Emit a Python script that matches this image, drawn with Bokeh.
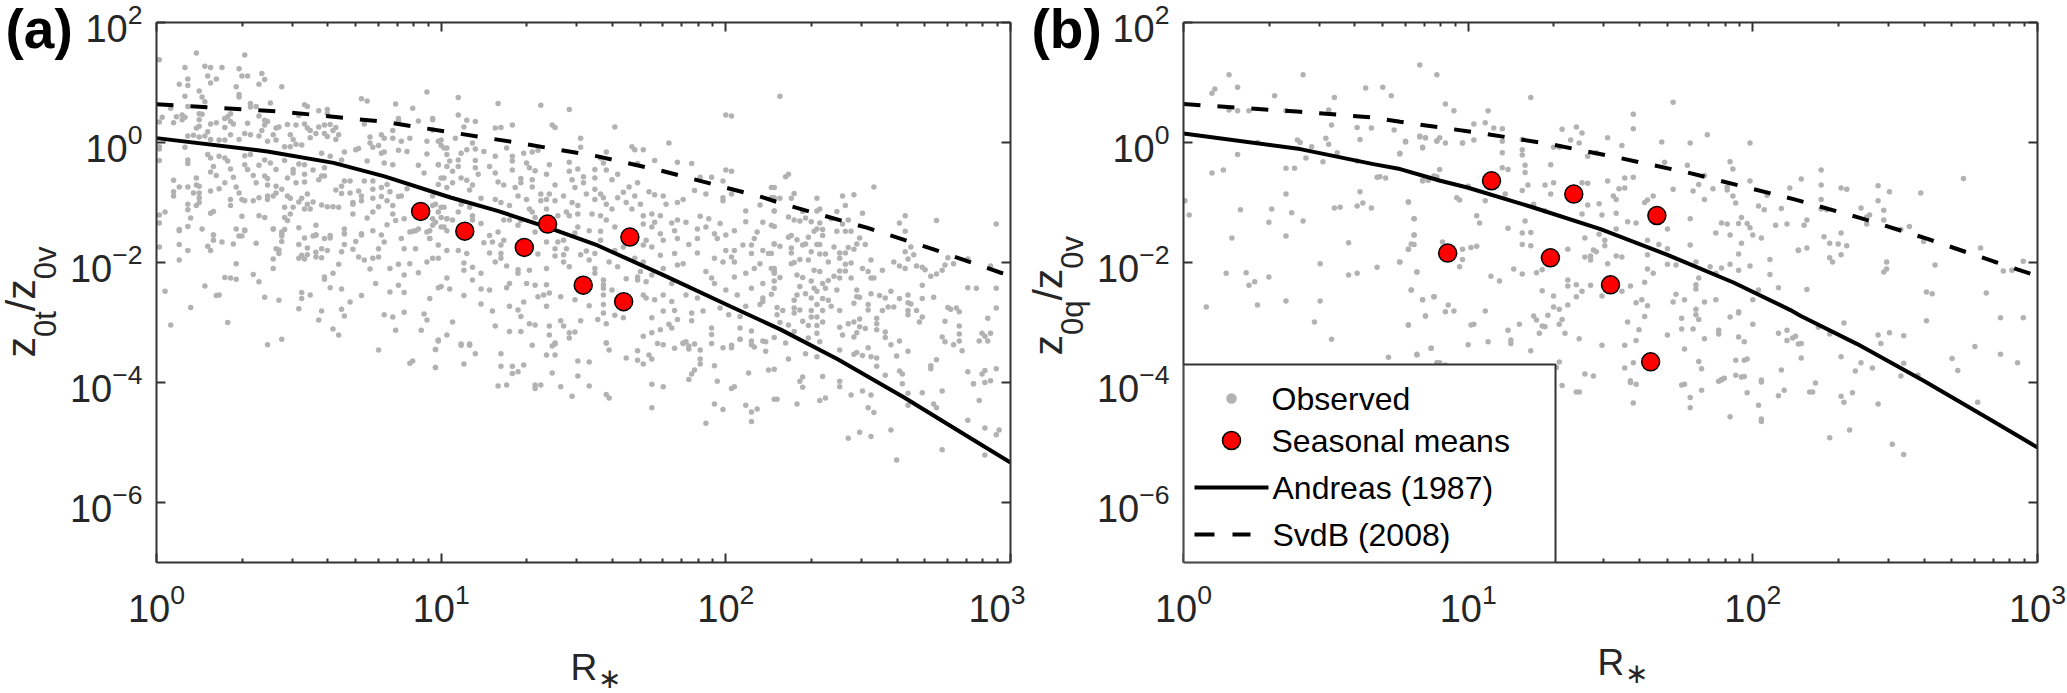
import math
from bokeh.plotting import figure
from bokeh.layouts import row
from bokeh.models import LogAxis, FixedTicker, Label, Range1d, BoxAnnotation
from bokeh.embed import file_html
from bokeh.resources import INLINE

# all series are stored as log10 values
mean_a_x = [.928,1.083,1.292,1.374,1.499,1.641,1.663]
mean_a_y = [-1.149,-1.478,-1.749,-1.36,-2.378,-2.653,-1.577]
mean_b_x = [.928,1.082,1.289,1.371,1.5,1.641,1.663]
mean_b_y = [-1.843,-.638,-1.922,-.86,-2.372,-3.655,-1.217]
and_a_x = [0,.39,.622,.798,1.033,1.198,1.374,1.55,1.781,2.017,2.193,2.393,2.625,2.86,3]
and_a_y = [.073,-.149,-.34,-.561,-.917,-1.139,-1.413,-1.716,-2.211,-2.733,-3.119,-3.614,-4.246,-4.93,-5.335]
svd_a_x = [0,.446,.798,1.033,1.254,1.55,1.781,2.133,2.203,2.498,2.73,2.966,3]
svd_a_y = [.639,.511,.346,.17,.007,-.231,-.479,-.918,-1.028,-1.424,-1.782,-2.171,-2.22]
and_b_x = [0,.41,.667,.761,.902,.997,1.229,1.465,1.7,1.932,2.132,2.167,2.367,2.6,2.835,3]
and_b_y = [.15,-.11,-.36,-.443,-.638,-.75,-1.083,-1.443,-1.872,-2.333,-2.793,-2.888,-3.36,-3.972,-4.62,-5.083]
svd_b_x = [0,.41,.667,.761,1.043,1.289,1.535,1.77,2.143,2.379,2.614,2.846,3]
svd_b_y = [.64,.511,.417,.345,.157,-.027,-.26,-.5,-.943,-1.26,-1.607,-1.983,-2.225]

obs_a = [
(.01,1.38),(.14,1.49),(.31,1.46),(.10,1.25),(.17,1.27),(.19,1.25),(.23,1.25),(.29,1.23),(.18,1.11),(.11,1.06),(.08,.97),(.11,.95),(.21,1.06),(.19,.99),(.30,1.11),(.32,1.11),(.37,1.15),(.38,1.05),(.36,.97),(.28,.93),(.44,.93),(.15,.86),(.29,.80),(.29,.76),(.10,.77),(.16,.76),(.17,.68),(.95,.84),(.72,.73),(.74,.69),(.84,.64),(.90,.57),(.33,.65),(.35,.60),(.40,.66),(.52,.63),(.53,.60),(.57,.53),(.60,.55),(.60,.48),(.05,.57),(.11,.60),(.33,.59),(.50,.45),(.85,.40),(.85,.36),(.97,.40),(.92,.36),(.73,.31),(.15,.48),(.16,.47),(.02,.42),(.07,.43),(.09,.46),(.10,.42),(.26,.48),(.25,.43),(.24,.40),(.36,.44),(.38,.37),(.39,.35),(.01,.34),(.06,.33),(.09,.38),(.15,.38),(.21,.33),(.19,.31),(.26,.35),(.27,.31),(.32,.32),(.38,.29),(.43,.26),(.46,.30),(.49,.29),(.52,.31),(.53,.24),(.57,.26),(.59,.29),(.61,.30),(.63,.25),(.62,.20),(.83,.20),(.97,.21),(.15,.27),(.14,.24),(.18,.18),(.24,.25),(.37,.20),(.42,.24),(.54,.20),(.56,.15),(.59,.15),(.60,.10),(.64,.13),(.75,.09),(.79,.13),(.80,.07),(.83,.07),(.86,.02),(.89,.07),(.63,.05),(.11,.11),(.13,.12),(.15,.09),(.17,.11),(.19,.05),(.22,.04),(.24,.04),(.26,.13),(.29,.05),(.31,.15),(.33,.13),(.36,.11),(.41,.13),(.42,.04),(.39,.02),(.47,.13),(.48,.05),(.49,-.03),(.51,-.04),(.54,.08),(.75,-.01),(.76,-.08),(.78,-.05),(.95,.02),(1.0,-.05),(1.02,-.09),(.85,-.13),(.88,-.15),(.79,-.18),(.80,-.16),(.95,-.19),(.10,-.08),(.01,-.07),(.01,-.11),(.18,-.20),(.19,-.26),(.22,-.23),(.24,-.26),(.25,-.31),(.31,-.22),(.33,-.20),(.38,-.29),(.40,-.34),(.45,-.07),(.47,-.07),(.58,-.18),(.61,-.23),(.65,-.29),(.66,-.16),(.70,-.12),(.71,-.10),(.74,-.31),(.80,-.34),(.83,-.37),(.92,-.38),(.99,-.37),(.01,-.30),(.11,-.29),(.11,-.35),(.20,-.40),(.31,-.37),(.32,-.45),(.26,-.44),(.36,-.38),(.45,-.30),(.48,-.45),(.50,-.36),(.52,-.37),(.55,-.46),(.59,-.42),(.94,-.51),(1.02,-.40),(.19,-.49),(.21,-.55),(.27,-.58),(.34,-.55),(.38,-.56),(.39,-.60),(.42,-.45),(.46,-.59),(.48,-.51),(.52,-.53),(.58,-.56),(.59,-.56),(.06,-.63),(.14,-.59),(.24,-.67),(.28,-.74),(.35,-.67),(.39,-.71),(.42,-.73),(.49,-.67),(.52,-.66),(.57,-.62),(.65,-.73),(.66,-.64),(.68,-.64),(.73,-.64),(.76,-.64),(.81,-.70),(.88,-.77),(.99,-.70),(1.0,-.59),(.08,-.74),(.11,-.74),(.14,-.71),(.15,-.73),(.22,-.77),(.19,-.81),(.06,-.82),(.13,-.84),(.15,-.84),(.29,-.84),(.30,-.95),(.31,-.97),(.34,-.97),(.36,-.92),(.39,-.89),(.41,-.89),(.44,-.78),(.42,-.84),(.46,-.89),(.47,-.93),(.51,-.93),(.50,-.99),(.53,-.86),(.63,-.79),(.65,-.85),(.68,-.84),(.71,-.81),(.72,-.89),(.76,-.78),(.79,-.75),(.82,-.82),(.85,-.90),(.86,-.89),(.97,-.89),(.06,-.89),(.15,-.92),(.26,-.95),(.39,-.95),(.69,-1.0),(.72,-.97),(.76,-.93),(.79,-.90),(.81,-.97),(.11,-1.03),(.15,-1.0),(.26,-1.05),(.45,-1.08),(.48,-1.08),(.53,-1.03),(.55,-.99),(.58,-1.04),(.60,-1.07),(.62,-1.07),(.64,-1.08),(.69,-1.03),(.78,-1.07),(.83,-1.05),(.97,-1.05),(1.0,-1.08),(.11,-1.12),(.14,-1.05),(.52,-1.11),(.54,-1.11),(.69,-1.19),(.76,-1.16),(.83,-1.19),(.03,-1.16),(.01,-1.21),(.20,-1.15),(.19,-1.18),(.12,-1.26),(.30,-1.23),(.36,-1.22),(.38,-1.25),(.45,-1.25),(.47,-1.19),(.74,-1.26),(.84,-1.30),(.87,-1.27),(.97,-1.27),(1.02,-1.27),(.01,-1.34),(.46,-1.30),(.11,-1.40),(.16,-1.44),(.08,-1.45),(.28,-1.44),(.31,-1.46),(.41,-1.44),(.45,-1.45),(.50,-1.42),(.56,-1.38),(.66,-1.44),(.72,-1.52),(.76,-1.47),(.81,-1.37),(.89,-1.49),(.92,-1.44),(.97,-1.38),(1.01,-1.41),(.44,-1.52),(.20,-1.54),(.30,-1.56),(.56,-1.54),(.66,-1.52),(.79,-1.54),(.91,-1.47),(.95,-1.49),
(.01,-1.74),(.08,-1.47),(.08,-1.70),(.11,-1.80),(.08,-1.96),(.20,-1.54),(.20,-1.63),(.18,-1.73),(.19,-1.80),(.23,-1.66),(.27,-1.69),(.29,-1.56),(.35,-1.68),(.31,-1.47),(.41,-1.44),(.44,-1.49),(.44,-1.56),(.44,-1.65),(.50,-1.70),(.52,-1.59),(.56,-1.54),(.55,-1.56),(.59,-1.60),(.61,-1.59),(.61,-1.55),(.53,-1.76),(.58,-1.77),(.60,-1.80),(.66,-1.70),(.66,-1.52),(.70,-1.65),(.69,-1.78),(.42,-1.77),(.43,-1.79),(.43,-1.85),(.41,-1.94),(.41,-2.10),(.51,-1.88),(.50,-1.93),(.52,-1.94),(.53,-1.87),(.56,-1.83),(.56,-1.91),(.58,-1.92),(.65,-1.82),(.71,-1.91),(.73,-1.96),(.72,-1.54),(.78,-1.77),(.78,-1.91),(.76,-1.93),(.64,-2.03),(.75,-2.11),(.62,-2.18),(.59,-2.24),(.59,-2.28),(.28,-2.02),(.24,-2.25),(.26,-2.26),(.28,-2.28),(.34,-2.20),(.36,-2.32),(.03,-2.48),(.17,-2.39),(.21,-2.55),(.22,-2.54),(.12,-2.75),(.05,-3.04),(.25,-3.00),(.38,-2.58),(.43,-2.63),(.51,-2.50),(.51,-2.60),(.54,-2.54),(.61,-2.42),(.65,-2.44),(.77,-2.35),(.82,-2.10),(.85,-2.03),(.89,-2.02),(.87,-2.21),(.92,-2.17),(.85,-2.38),(.82,-2.49),(.87,-2.50),(.72,-2.55),(.68,-2.66),(.65,-2.78),(.66,-2.89),(.58,-2.81),(.57,-2.96),(.50,-2.77),(.62,-3.11),(.64,-3.21),(.39,-3.37),(.44,-3.28),(.80,-2.87),(.83,-2.91),(.87,-2.83),(.84,-3.13),(.78,-3.46),(.89,-3.68),(.90,-3.64),(.98,-3.75),(.98,-3.45),(.99,-3.29),(.93,-3.13),(.95,-2.96),(.94,-2.86),(.96,-2.60),(.99,-2.42),(.95,-1.99),(.99,-1.93),(.91,-1.77),(.87,-1.77),(.96,-1.60),(.80,-1.66),(.86,-1.60),(.90,-1.48),
(1.06,.46),(1.09,.37),(1.12,.35),(1.08,.26),(.97,.38),(.97,.21),(1.19,.24),(1.21,.25),(1.25,.29),(1.39,.29),(1.40,.25),(1.61,.26),(2.0,.46),(1.05,.07),(1.11,-.01),(1.49,.07),(1.49,-.08),(1.67,-.07),(1.68,-.12),(1.71,-.12),(1.80,-.01),(1.58,-.16),(1.75,-.30),(1.83,-.33),(1.88,-.35),(.99,.02),(1.0,.04),(1.01,-.09),(1.02,-.20),(1.07,-.18),(1.09,-.12),(1.12,-.11),(1.15,-.15),(1.19,-.23),(1.23,-.09),(1.25,-.23),(1.29,-.18),(1.32,-.16),(1.34,-.13),(1.56,-.26),(1.57,-.34),(1.69,-.35),(.99,-.37),(1.03,-.31),(1.06,-.29),(1.12,-.30),(1.17,-.40),(1.25,-.31),(1.30,-.34),(1.38,-.37),(1.45,-.33),(1.25,-.46),(1.31,-.42),(1.33,-.47),(1.37,-.53),(1.45,-.48),(1.48,-.44),(1.54,-.45),(1.58,-.46),(1.62,-.53),(1.60,-.62),(2.0,-.46),(2.02,-.48),(1.04,-.48),(1.06,-.40),(1.12,-.42),(1.13,-.53),(1.19,-.51),(1.28,-.60),(1.32,-.62),(1.50,-.57),(1.54,-.59),(1.46,-.62),(1.50,-.67),(1.91,-.58),(1.95,-.58),(1.99,-.64),(1.01,-.59),(1.07,-.59),(1.09,-.63),(1.04,-.67),(1.11,-.71),(1.10,-.79),(1.20,-.66),(1.22,-.71),(1.26,-.75),(1.28,-.67),(1.32,-.74),(1.40,-.71),(1.47,-.75),(1.66,-.74),(1.69,-.67),(1.73,-.82),(1.75,-.87),(1.78,-.89),(1.89,-.80),(1.93,-.86),(1.99,-.92),(2.02,-.86),(2.16,-.75),(2.16,-.92),(1.02,-.75),(1.27,-.89),(1.30,-.95),(1.35,-.86),(1.38,-.86),(1.37,-.95),(1.43,-.89),(1.51,-.86),(1.54,-.78),(1.56,-.86),(1.64,-.83),(1.68,-.89),(1.14,-.93),(1.19,-.95),(1.21,-1.0),(1.24,-1.05),(1.31,-1.11),(1.35,-.97),(1.40,-.97),(1.46,-1.0),(1.48,-1.05),(1.54,-.95),(1.57,-.92),(1.62,-.92),(1.65,-1.0),(1.70,-1.03),(1.79,-1.03),(1.83,-1.0),(1.85,-.95),(1.99,-.97),(2.07,-1.14),(2.12,-1.04),(2.17,-1.14),(.98,-1.03),(1.01,-1.08),(1.07,-1.03),(1.10,-1.08),(1.32,-1.16),(1.37,-1.11),(1.44,-1.16),(1.48,-1.19),(1.53,-1.19),(1.58,-1.03),(1.60,-1.11),(1.67,-1.11),(1.74,-1.19),(1.77,-1.22),(.99,-1.16),(1.06,-1.16),(1.0,-1.25),(1.11,-1.22),(1.22,-1.29),(1.24,-1.29),(1.28,-1.30),(1.33,-1.25),(1.41,-1.22),(1.45,-1.22),(1.56,-1.22),(1.58,-1.29),(1.71,-1.22),(1.75,-1.33),(1.83,-1.29),(1.86,-1.33),(1.91,-1.23),(1.94,-1.27),(1.98,-1.35),(2.07,-1.32),(2.13,-1.33),(2.16,-1.38),(1.02,-1.27),(1.04,-1.29),(.98,-1.33),(1.11,-1.29),(1.14,-1.35),(1.27,-1.38),(1.48,-1.41),(1.61,-1.41),(1.71,-1.36),(1.74,-1.41),(1.81,-1.34),(1.90,-1.44),(1.93,-1.41),(2.0,-1.54),(2.03,-1.47),(2.11,-1.49),(1.0,-1.41),(1.02,-1.47),(.96,-1.47),(1.20,-1.49),(1.33,-1.49),(1.47,-1.51),(1.52,-1.47),(1.56,-1.48),(1.77,-1.52),(1.82,-1.47),(1.90,-1.60),(1.96,-1.52),(2.10,-1.60),(2.09,-1.71),(.96,-1.60),(1.17,-1.55),(1.22,-1.63),(1.37,-1.66),(1.41,-1.66),(1.43,-1.63),(1.56,-1.63),(1.72,-1.63),(1.78,-1.63),(1.83,-1.60),(1.87,-1.70),(1.97,-1.60),(2.06,-1.71),(2.17,-1.69),(.99,-1.71),(1.15,-1.67),(1.18,-1.66),(1.21,-1.71),(1.40,-1.77),(1.51,-1.81),(1.44,-1.77),(1.64,-1.74),(1.71,-1.71),(1.74,-1.74),(1.82,-1.85),(2.03,-1.80),(2.0,-1.80),(2.13,-1.80),(2.15,-1.85),(1.02,-1.80),(1.06,-1.80),(1.17,-1.84),(1.21,-1.85),(1.34,-1.86),(1.40,-1.89),(1.43,-1.87),(1.49,-1.87),(1.54,-1.85),(1.61,-1.80),(1.68,-1.93),(1.77,-1.88),(1.90,-1.84),(1.96,-1.93),(2.02,-1.91),(2.09,-1.85),(.97,-1.93),(1.09,-1.85),(1.19,-1.99),(1.21,-1.93),(1.43,-1.99),(1.52,-1.96),(1.59,-1.99),(1.71,-1.99),(1.85,-2.02),(1.93,-2.15),(1.99,-1.99),(2.03,-1.99),(2.12,-2.02),(2.16,-2.10),(1.08,-2.01),(1.11,-2.08),(1.23,-2.06),(1.27,-2.12),(1.37,-2.10),(1.45,-2.07),(1.54,-2.10),(1.62,-2.07),(1.69,-2.24),(1.78,-2.10),(1.83,-2.04),(2.07,-2.18),(2.10,-2.10),(1.08,-2.13),(1.14,-2.18),(1.27,-2.18),(1.31,-2.13),(1.54,-2.18),(1.57,-2.29),(1.70,-2.15),(1.74,-2.21),(1.95,-2.26),(2.03,-2.24),(2.17,-2.15),(1.02,-2.26),(1.11,-2.29),(1.24,-2.35),(1.30,-2.35),(1.33,-2.38),(1.37,-2.37),(1.57,-2.37),(1.65,-2.27),(1.69,-2.29),(1.81,-2.35),(1.96,-2.35),(2.13,-2.35),(1.0,-2.40),(1.03,-2.44),(1.14,-2.44),(1.17,-2.46),(1.23,-2.42),(1.57,-2.43),(1.60,-2.46),(1.72,-2.32),(1.78,-2.54),(2.0,-2.46),(2.09,-2.43),(1.08,-2.55),(1.36,-2.54),(1.42,-2.57),(1.57,-2.54),(1.71,-2.54),(1.75,-2.62),(1.86,-2.54),(1.90,-2.59),(2.04,-2.54),(2.13,-2.59),(1.14,-2.69),(1.34,-2.57),(1.38,-2.51),(1.47,-2.62),(1.52,-2.72),(1.57,-2.70),(1.72,-2.59),(1.81,-2.65),(1.92,-2.81),(1.98,-2.76),(2.07,-2.73),(2.12,-2.70),(1.18,-2.81),(1.24,-2.73),(1.27,-2.79),(1.29,-2.66),(1.37,-2.73),(1.57,-2.84),(1.61,-2.88),(1.78,-2.81),(1.82,-2.80),(1.88,-2.84),(2.01,-2.87),(2.05,-2.90),(1.28,-2.90),(1.42,-2.97),(1.49,-2.97),(1.55,-2.95),(1.64,-2.92),(1.74,-2.92),(1.83,-2.95),(1.88,-2.97),(2.13,-2.65),(1.04,-2.99),(1.19,-3.06),(1.31,-3.02),(1.33,-3.04),(1.38,-3.06),(1.43,-3.06),(1.58,-3.02),(1.77,-3.12),(1.80,-3.03),(1.95,-3.09),(2.05,-3.09),(1.24,-3.15),(1.28,-3.15),(1.38,-3.21),(1.45,-3.17),(1.47,-3.16),(1.71,-3.23),(1.74,-3.17),(1.81,-3.09),(1.95,-3.20),(2.09,-3.14),(2.13,-3.31),(.99,-3.31),(1.02,-3.21),(1.07,-3.36),(1.10,-3.36),(1.40,-3.36),(1.58,-3.34),(1.85,-3.34),(1.89,-3.36),(2.05,-3.28),(2.09,-3.31),
(.99,-3.30),(.98,-3.45),(.98,-3.75),(1.07,-3.38),(1.10,-3.38),(1.12,-3.52),(1.08,-3.69),(1.21,-3.52),(1.21,-3.73),(1.25,-3.73),(1.25,-3.85),(1.27,-3.82),(1.29,-3.71),(1.20,-4.06),(1.23,-4.04),(1.33,-4.04),(1.33,-4.10),(1.35,-4.04),(1.32,-3.38),(1.40,-3.34),(1.39,-3.39),(1.37,-3.54),(1.40,-3.54),(1.39,-3.84),(1.42,-4.07),(1.48,-3.64),(1.52,-3.66),(1.48,-3.89),(1.52,-4.06),(1.46,-4.23),(1.45,-3.26),(1.58,-3.34),(1.59,-3.46),(1.65,-3.59),(1.69,-3.47),(1.69,-3.63),(1.71,-3.69),(1.73,-3.54),(1.74,-3.61),(1.58,-4.20),(1.59,-4.26),(1.74,-4.03),(1.78,-4.07),(1.74,-4.42),(1.76,-3.35),(1.78,-3.37),(1.82,-3.43),(1.85,-3.35),(1.86,-3.32),(1.87,-3.39),(1.87,-3.44),(1.91,-3.46),(1.91,-3.61),(1.91,-3.69),(1.89,-3.79),(1.88,-3.86),(1.87,-3.95),(1.96,-3.72),(1.97,-3.98),(1.95,-3.35),(1.99,-3.42),(2.02,-3.42),(2.02,-3.38),(2.05,-3.28),(2.09,-3.37),(2.10,-3.41),(2.14,-3.32),(2.14,-3.48),(2.15,-3.79),(2.17,-3.78),(2.08,-3.84),(2.02,-4.10),(2.03,-4.07),(1.96,-4.36),(1.99,-4.45),(1.93,-4.68),(2.07,-4.38),(2.09,-4.49),(2.11,-4.44),(2.09,-4.65),(2.17,-4.28),
(2.19,.77),(2.21,-.57),(2.22,-.53),(2.17,-.75),(2.52,-.74),(2.17,-.92),(2.19,-.93),(2.24,-.85),(2.23,-.93),(2.32,-.93),(2.41,-.89),(2.45,-.87),(2.42,-1.05),(2.17,-1.14),(2.27,-1.15),(2.32,-1.14),(2.33,-1.11),(2.39,-1.15),(2.48,-1.18),(2.22,-1.24),(2.24,-1.29),(2.26,-1.31),(2.28,-1.26),(2.30,-1.32),(2.33,-1.34),(2.37,-1.27),(2.41,-1.36),(2.43,-1.29),(2.39,-1.48),(2.42,-1.48),(2.44,-1.48),(2.63,-1.22),(2.61,-1.34),(2.63,-1.48),(2.74,-1.30),(2.95,-1.36),(2.32,-1.44),(2.34,-1.45),(2.31,-1.48),(2.17,-1.40),(2.23,-1.55),(2.22,-1.58),(2.25,-1.62),(2.29,-1.58),(2.34,-1.55),(2.47,-1.59),(2.17,-1.69),(2.19,-1.73),(2.28,-1.69),(2.27,-1.71),(2.23,-1.76),(2.23,-1.84),(2.30,-1.82),(2.33,-1.70),(2.32,-1.70),(2.38,-1.74),(2.46,-1.69),(2.49,-1.70),(2.43,-1.75),(2.45,-1.78),(2.42,-1.84),(2.40,-1.84),(2.65,-1.74),(2.63,-1.82),(2.66,-1.87),(2.33,-1.86),(2.35,-1.86),(2.29,-1.96),(2.26,-1.95),(2.40,-1.93),(2.36,-1.99),(2.16,-1.85),(2.64,-1.94),(2.78,-1.92),(2.85,-1.94),(2.51,-1.96),(2.59,-1.99),(2.61,-2.06),(2.63,-2.10),(2.67,-2.06),(2.69,-2.08),(2.70,-2.12),(2.77,-2.04),(2.80,-2.02),(2.76,-2.13),(2.74,-2.19),(2.72,-2.23),(2.93,-2.06),(2.23,-2.02),(2.24,-2.0),(2.31,-2.13),(2.33,-2.15),(2.42,-2.03),(2.44,-2.01),(2.48,-2.10),(2.42,-2.14),(2.40,-2.14),(2.50,-2.15),(2.55,-2.13),(2.17,-2.10),(2.17,-2.18),(2.19,-2.25),(2.25,-2.21),(2.27,-2.25),(2.38,-2.23),(2.40,-2.26),(2.44,-2.26),(2.51,-2.26),(2.52,-2.26),(2.17,-2.31),(2.30,-2.31),(2.36,-2.30),(2.34,-2.35),(2.69,-2.38),(2.85,-2.42),(2.88,-2.43),(2.95,-2.43),(2.17,-2.43),(2.26,-2.40),(2.25,-2.54),(2.31,-2.43),(2.35,-2.43),(2.39,-2.46),(2.46,-2.46),(2.58,-2.48),(2.16,-2.53),(2.28,-2.52),(2.32,-2.48),(2.30,-2.59),(2.46,-2.57),(2.47,-2.58),(2.51,-2.52),(2.54,-2.55),(2.56,-2.59),(2.64,-2.54),(2.61,-2.60),(2.64,-2.67),(2.65,-2.69),(2.69,-2.60),(2.73,-2.58),(2.45,-2.68),(2.34,-2.60),(2.36,-2.63),(2.24,-2.63),(2.32,-2.70),(2.34,-2.80),(2.37,-2.73),(2.40,-2.80),(2.18,-2.75),(2.20,-2.80),(2.24,-2.76),(2.26,-2.79),(2.30,-2.80),(2.50,-2.70),(2.50,-2.79),(2.55,-2.80),(2.57,-2.74),(2.59,-2.74),(2.64,-2.80),(2.67,-2.80),(2.78,-2.75),(2.79,-2.78),(2.81,-2.76),(2.82,-2.82),(2.92,-2.93),(2.95,-2.76),(2.18,-2.87),(2.24,-2.84),(2.30,-2.91),(2.32,-2.91),(2.27,-2.98),(2.34,-2.99),(2.40,-3.08),(2.43,-3.02),(2.45,-2.99),(2.47,-2.94),(2.47,-3.07),(2.49,-3.10),(2.53,-2.93),(2.53,-3.02),(2.53,-3.12),(2.64,-2.87),(2.68,-2.99),(2.69,-2.91),(2.77,-2.98),(2.82,-3.06),(2.19,-3.0),(2.22,-3.04),(2.29,-3.05),(2.32,-3.05),(2.41,-3.21),(2.45,-3.24),(2.46,-3.17),(2.56,-3.16),(2.56,-3.25),(2.58,-3.37),(2.61,-3.31),(2.82,-3.19),(2.76,-3.24),(2.77,-3.32),(2.80,-3.37),(2.82,-3.31),(2.83,-3.47),(2.90,-3.18),(2.91,-3.23),(2.92,-3.31),(2.93,-3.18),(2.89,-3.31),(2.32,-3.18),(2.29,-3.26),(2.24,-3.15),(2.33,-3.32),(2.17,-3.25),(2.21,-3.34),(2.40,-3.46),(2.50,-3.42),(2.45,-3.53),(2.46,-3.50),(2.48,-3.55),(2.51,-3.57),(2.53,-3.59),(2.60,-3.56),(2.64,-3.48),(2.28,-3.52),(2.32,-3.57),(2.22,-3.61),(2.53,-3.73),(2.61,-3.81),(2.62,-3.86),(2.56,-3.88),(2.74,-3.62),(2.72,-3.72),(2.72,-3.77),(2.85,-3.82),(2.91,-3.80),(2.90,-3.86),(2.95,-3.77),(2.93,-3.97),(2.91,-4.0),(2.87,-4.02),(2.87,-4.02),(2.34,-3.90),(2.27,-3.91),(2.26,-3.98),(2.27,-4.08),(2.40,-3.98),(2.40,-4.07),(2.62,-4.02),(2.69,-4.17),(2.76,-4.14),(2.64,-4.18),(2.64,-4.38),(2.73,-4.36),(2.74,-4.42),(2.89,-4.30),(2.48,-4.14),(2.44,-4.21),(2.51,-4.21),(2.35,-4.26),(2.33,-4.30),(2.25,-4.36),(2.18,-4.28),(2.50,-4.42),(2.52,-4.50),(2.85,-4.63),(2.91,-4.76),(2.96,-4.79),(2.95,-4.87),(2.58,-4.79),(2.47,-4.83),(2.51,-4.90),(2.43,-4.93),(2.76,-5.12),(2.60,-5.29),(2.91,-5.21),
(2.02,.44),(1.35,.62),(1.45,.55),(1.2,.65),(1.06,.75),
]

obs_b = [
(.16,1.13),(.42,1.13),(.83,1.29),(.89,1.13),(.10,.82),(.11,.89),(.19,.92),(.32,.78),(.53,.75),(.64,.91),(.70,.92),(.73,.78),(.16,.54),(.19,.53),(.23,.53),(.36,.53),(.51,.54),(.52,.29),(.61,.25),(.66,.24),(.74,.21),(.40,.04),(.41,0),(.50,.07),(.51,-.03),(.62,.05),(.78,.01),(.83,.09),(.85,.08),(.89,.03),(.84,-.09),(.26,0),(.19,-.20),(.45,-.07),(.43,-.26),(.54,-.17),(.49,-.32),(.76,-.19),(.61,-.31),(.10,-.51),(.14,-.46),(.36,-.43),(.39,-.43),(.68,-.58),(.69,-.57),(.71,-.59),(.84,-.64),(.86,-.63),(.89,-.57),(.36,-.86),(.62,-.82),(.005,-.97),(.02,-1.21),(.20,-1.12),(.31,-1.11),(.38,-1.17),(.30,-1.33),(.42,-1.31),(.53,-1.09),(.55,-1.08),(.61,-1.06),(.63,-1.01),(.66,-1.09),(.79,-.99),(.81,-1.27),(.17,-1.59),(.36,-1.56),(.58,-1.67),(.81,-1.54),(.80,-1.69),(.79,-1.78),(.76,-1.99),(.48,-2.02),(.68,-2.08),
(.15,-2.18),(.22,-2.17),(.25,-2.32),(.23,-2.38),(.30,-2.24),(.58,-2.21),(.61,-2.18),(.82,-2.16),(.80,-2.46),(.84,-2.62),(.88,-2.57),(.85,-2.89),(.79,-3.04),(.08,-2.74),(.26,-2.71),(.36,-2.64),(.48,-2.64),(.46,-2.99),(.52,-3.28),(.72,-3.58),(.82,-3.54),(.87,-3.43),(.89,-3.67),
(.92,.64),(.95,.53),(1.07,.53),(1.06,.33),(1.02,.31),(1.09,.24),(1.12,.23),(1.72,.67),(1.58,.47),(1.58,.23),(1.38,.26),(1.33,.22),(1.40,.16),(1.84,.13),(1.49,.08),(1.36,.04),(1.39,-.01),(1.68,.01),(1.78,-.01),(1.99,-.01),(1.54,-.05),(.83,.11),(.85,.08),(.90,.08),(.89,.02),(.78,.02),(.92,-.01),(.98,-.01),(.98,-.01),(1.02,.04),(1.12,.02),(1.19,.05),(.84,-.08),(1.19,-.12),(1.19,-.21),(1.12,-.17),(1.30,-.08),(1.32,-.08),(1.45,-.17),(1.42,-.23),(.76,-.18),(1.20,-.38),(1.29,-.37),(1.12,-.42),(1.14,-.45),(1.20,-.50),(.90,-.45),(1.69,-.33),(1.77,-.38),(1.92,-.32),(1.93,-.44),(1.83,-.55),(1.99,-.64),(2.13,-.76),(.84,-.63),(.86,-.63),(.88,-.56),(1.0,-.73),(1.27,-.71),(1.30,-.67),(1.40,-.67),(1.42,-.68),(1.49,-.64),(1.55,-.59),(1.58,-.58),(1.81,-.70),(1.86,-.77),(1.53,-.77),(1.55,-.76),(1.72,-.78),(1.79,-.81),(1.19,-.80),(1.21,-.71),(1.29,-.86),(1.91,-.74),(1.91,-.79),(2.05,-.88),(1.93,-.89),(1.94,-1.01),(1.83,-.95),(1.65,-.89),(1.63,-.96),(1.62,-1.0),(1.51,-.89),(1.52,-.95),(2.02,-1.06),(2.04,-1.12),(2.10,-1.10),(.96,-.92),(.97,-.96),(1.06,-.97),(.79,-.99),(1.13,-.86),(1.42,-1.04),(1.46,-1.02),(1.23,-1.03),(1.47,-1.21),(1.52,-1.18),(1.40,-1.19),(1.27,-1.14),(1.03,-1.22),(1.78,-1.27),(1.96,-1.25),(.81,-1.27),(1.04,-1.34),(1.20,-1.31),(1.56,-1.32),(1.59,-1.34),(1.89,-1.34),(1.91,-1.36),(1.95,-1.35),(1.98,-1.35),(2.08,-1.38),(2.12,-1.36),(1.99,-1.42),(1.14,-1.43),(1.70,-1.44),(1.52,-1.44),(1.19,-1.51),(1.22,-1.50),(1.87,-1.51),(1.92,-1.54),(2.0,-1.54),(2.03,-1.59),(.81,-1.54),(1.41,-1.59),(1.46,-1.53),(1.48,-1.63),(1.63,-1.63),(1.48,-1.72),(1.67,-1.70),(1.70,-1.77),(1.78,-1.71),(1.96,-1.68),(2.16,-1.80),(.81,-1.70),(.79,-1.78),(.91,-1.66),(.98,-1.78),(1.01,-1.75),(1.03,-1.73),(1.19,-1.70),(1.22,-1.72),(1.35,-1.78),(1.44,-1.79),(1.45,-1.82),(1.43,-1.89),(1.63,-1.87),(1.52,-1.89),(1.54,-1.91),(1.95,-1.86),(.98,-1.95),(1.43,-1.96),(1.41,-1.91),(2.06,-1.95),(1.49,-2.02),(1.70,-2.03),(1.73,-2.04),(1.80,-1.99),(1.92,-2.03),(1.99,-2.06),(1.85,-2.07),(1.89,-2.09),(.97,-2.07),(.76,-1.99),(.82,-2.16),(1.08,-2.23),(1.16,-2.11),(1.19,-2.19),(1.24,-2.17),(1.26,-2.12),(1.63,-2.11),(1.65,-2.18),(1.95,-2.13),(1.87,-2.18),(2.06,-2.20),(1.81,-2.26),(1.11,-2.31),(1.35,-2.29),(1.35,-2.39),(1.38,-2.37),(1.43,-2.38),(1.57,-2.39),(1.62,-2.33),(1.80,-2.37),(1.80,-2.44),(2.09,-2.42),(2.02,-2.46),(.80,-2.46),(1.26,-2.47),(1.40,-2.48),(1.54,-2.48),(1.38,-2.57),(1.30,-2.56),(1.47,-2.56),(1.73,-2.53),(1.61,-2.62),(1.59,-2.67),(1.63,-2.72),(1.72,-2.66),(1.76,-2.62),(1.83,-2.66),(1.87,-2.62),(2.0,-2.62),(.84,-2.62),(.88,-2.57),(.93,-2.71),(.92,-2.82),(.95,-2.81),(1.06,-2.81),(1.35,-2.71),(1.30,-2.74),(1.32,-2.78),(1.80,-2.78),(1.80,-2.87),(1.81,-2.95),(1.95,-2.82),(1.95,-2.84),(1.92,-2.91),(.85,-2.89),(1.62,-2.90),(1.75,-2.93),(1.28,-2.88),(1.23,-2.89),(1.24,-2.96),(1.33,-2.95),(1.32,-3.03),(1.26,-3.06),(1.27,-3.07),(.79,-3.04),(1.01,-3.04),(1.02,-3.03),(1.18,-3.03),(1.56,-2.99),(2.0,-3.03),(1.75,-3.11),(1.79,-3.11),(1.88,-3.13),(1.88,-3.19),(2.09,-3.18),(2.12,-3.13),(1.14,-3.13),(1.25,-3.18),(1.34,-3.18),(1.60,-3.12),(1.70,-3.21),(1.83,-3.27),(1.95,-3.24),(1.97,-3.32),(2.12,-3.30),(2.14,-3.26),(2.15,-3.23),(1.0,-3.37),(1.07,-3.32),(1.15,-3.35),(1.15,-3.29),(1.39,-3.27),(1.59,-3.30),(1.47,-3.38),(1.55,-3.38),(1.76,-3.44),(.87,-3.43),(1.22,-3.47),(.82,-3.53),(2.16,-3.36),(1.81,-3.65),(1.94,-3.63),(1.97,-3.63),(1.98,-3.61),(.90,-3.67),(1.32,-3.66),(1.58,-3.67),(1.55,-3.76),(1.82,-3.77),(2.10,-3.79),(1.41,-3.86),(1.44,-3.89),(1.90,-3.93),(1.94,-3.88),(1.97,-3.90),(2.03,-3.96),(1.31,-3.75),(1.89,-3.96),(1.57,-3.97),(.92,-3.71),
(1.33,-4.05),(1.38,-4.16),(1.39,-4.16),(1.57,-4.0),(1.59,-4.03),(1.58,-4.34),(1.75,-4.04),(1.76,-4.03),(1.78,-4.25),(1.78,-4.42),(1.82,-4.13),(1.88,-3.98),(1.89,-3.95),(1.96,-3.91),(1.98,-4.17),(2.02,-4.38),(2.03,-3.99),(2.09,-4.22),(2.11,-4.13),(1.92,-4.57),(2.03,-4.61),(2.03,-4.65),(2.20,-4.16),(1.22,.75),
(2.24,-.46),(2.17,-.61),(2.24,-.71),(2.31,-.76),(2.33,-.78),(2.44,-.72),(2.48,-.82),(2.59,-.84),(2.74,-.60),(2.24,-.95),(2.24,-1.11),(2.26,-1.12),(2.44,-.97),(2.46,-1.13),(2.38,-1.09),(2.41,-1.21),(2.40,-1.24),(2.46,-1.29),(2.19,-1.29),(2.18,-1.38),(2.40,-1.36),(2.52,-1.45),(2.55,-1.40),(2.60,-1.65),(2.31,-1.51),(2.25,-1.57),(2.27,-1.68),(2.30,-1.69),(2.33,-1.72),(2.19,-1.76),(2.16,-1.79),(2.80,-1.76),(2.31,-1.87),(2.27,-1.92),(2.28,-1.99),(2.47,-1.99),(2.47,-2.11),(2.46,-2.16),(2.64,-2.04),(2.88,-2.14),(2.91,-2.13),(2.95,-1.98),(2.19,-2.45),(2.61,-2.49),(2.63,-2.52),(2.82,-2.51),(2.61,-2.97),(2.87,-2.92),(2.95,-2.92),(2.32,-3.01),(2.23,-3.08),(2.27,-3.19),(2.44,-3.21),(2.48,-3.17),(2.53,-3.22),(2.45,-3.35),(2.17,-3.35),(2.17,-3.59),(2.31,-3.57),(2.38,-3.67),(2.42,-3.76),(2.36,-3.81),(2.53,-3.68),(2.52,-3.89),(2.58,-3.88),(2.70,-3.60),(2.72,-3.80),(2.78,-3.40),(2.87,-3.53),(2.93,-3.67),(2.22,-4.01),(2.21,-4.16),(2.31,-4.23),(2.32,-4.33),(2.35,-4.17),(2.44,-4.36),(2.79,-4.33),(2.34,-4.79),(2.27,-4.92),(2.49,-5.03),(2.53,-5.20),
]

x_ticks = [1,10,100,1000]
y_ticks = [1e2,1,1e-2,1e-4,1e-6]
minor = [m*10**d for d in range(3) for m in range(2,10)]

FONT="Liberation Sans"; TXT="#262626"; AX="#333333"; GREY="#b2b2b2"
H=693; W=2067

def p10(v): return [10**a for a in v]

def style(a,main,standoff):
    a.major_tick_out=0;a.minor_tick_out=0
    a.axis_line_width=2;a.axis_line_color=AX;a.major_tick_line_color=AX;a.minor_tick_line_color=AX
    a.major_tick_line_width=2;a.minor_tick_line_width=2;a.major_tick_in=9;a.minor_tick_in=4
    a.major_label_text_font=FONT;a.major_label_text_color=TXT if main else None
    a.major_label_text_font_size="38px" if main else "1px"
    a.major_label_standoff=standoff if main else 0

class Panel:
    def __init__(s,w,left,right,bottom,origin,obs,sx,sy,ax,ay,mx,my):
        s.fl=left+origin; s.fb=H-bottom; s.fr=origin+w-right; s.ft=22
        p=figure(width=w,height=H,x_axis_type="log",y_axis_type="log",
             x_range=Range1d(1,1000),y_range=Range1d(1e-7,1e2),toolbar_location=None,output_backend="svg",
             min_border_left=left,min_border_right=right,min_border_top=22,min_border_bottom=bottom,
             outline_line_color=None,background_fill_color="white",border_fill_color=None)
        s.p=p
        p.grid.visible=False
        top=LogAxis(); rgt=LogAxis()
        p.add_layout(top,"above"); p.add_layout(rgt,"right")
        for a,m in ((p.below[0],True),(top,False)):
            a.ticker=FixedTicker(ticks=x_ticks,minor_ticks=minor); style(a,m,20)
        for a,m in ((p.left[0],True),(rgt,False)):
            a.ticker=FixedTicker(ticks=y_ticks); style(a,m,14); a.minor_tick_line_color=None
        p.scatter(p10([q[0] for q in obs]),p10([q[1] for q in obs]),size=5.5,color=GREY,line_color=None)
        p.line(p10(sx),p10(sy),line_color="black",line_width=4,line_dash="17 17")
        p.line(p10(ax),p10(ay),line_color="black",line_width=4)
        p.scatter(p10(mx),p10(my),size=18,fill_color="#ff0000",line_color="black",line_width=1.5)
    def dx(s,X): return 10**((X-s.fl)/(s.fr-s.fl)*3)
    def dy(s,Y): return 10**(2-(Y-s.ft)/(s.fb-s.ft)*9)

S=1025
a=Panel(S,156,S-1010,127,0,obs_a,svd_a_x,svd_a_y,and_a_x,and_a_y,mean_a_x,mean_a_y)
b=Panel(W-S,1183-S,30,131,S,obs_b,svd_b_x,svd_b_y,and_b_x,and_b_y,mean_b_x,mean_b_y)

# legend box and keys of panel (b)
box=BoxAnnotation(left=1183-b.fl,right=1555-b.fl,top=b.fb-364,bottom=b.fb-562,left_units="screen",right_units="screen",top_units="screen",bottom_units="screen",fill_color="white",fill_alpha=1,line_color=AX,line_alpha=1,line_width=2,level="annotation")
b.p.add_layout(box)
q=b.p
q.scatter([b.dx(1231)],[b.dy(398)],size=10.5,color=GREY,line_color=None,level="overlay")
q.scatter([b.dx(1231)],[b.dy(440)],size=18,fill_color="#ff0000",line_color="black",line_width=1.5,level="overlay")
q.line([b.dx(1194),b.dx(1268)],[b.dy(487)]*2,line_color="black",line_width=4,level="overlay")
q.line([b.dx(1194),b.dx(1250)],[b.dy(534)]*2,line_color="black",line_width=4,line_dash="20 18",level="overlay")

# transparent page-sized layer for the texts that lie outside the frames;
# a root of its own, so that the row does not align its frame with the panels
ov=figure(width=W,height=H,title=None,x_range=Range1d(0,W),y_range=Range1d(H,0),x_axis_location=None,y_axis_location=None,
          toolbar_location=None,output_backend="svg",min_border=0,outline_line_color=None,
          background_fill_color=None,border_fill_color=None,styles={"position":"absolute","top":"0px","left":"0px"})
ov.grid.visible=False
def label(X,Y,t,size,angle=0,bold=False,color=TXT):
    # the box of an alphabetic label sits about .36 of its size below the baseline asked for
    if angle: X-=.36*size
    else: Y-=.36*size
    ov.add_layout(Label(x=X,y=Y,text=t,text_font=FONT,text_font_size=f"{size}px",text_color=color,angle=angle,
        angle_units="rad",text_baseline="alphabetic",text_align="left",text_font_style="bold" if bold else "normal"))
def ylabel(X,Y,sub):
    sz,ss=41,31
    for t,u,f,wd in (("z",0,sz,.5),(sub,1,ss,{"0t":.834,"0q":1.112}[sub]),("/",0,sz,.278),("z",0,sz,.5),("0v",1,ss,1.056)):
        label(X+(21 if u else 0),Y,t,f,angle=math.pi/2)
        Y-=wd*f
label(5,48,"(a)",55,bold=True,color="black")
label(1031,48,"(b)",55,bold=True,color="black")
ylabel(35,357,"0t")
ylabel(1062,355,"0q")
label(570,680,"R",37); label(597,688,"∗",28)
label(1597,675,"R",37); label(1624,683,"∗",28)
label(1271,410,"Observed",32,color="black")
label(1271,452,"Seasonal means",32,color="black")
label(1272,499,"Andreas (1987)",32,color="black")
label(1272,546,"SvdB (2008)",32,color="black")

r=row(a.p,b.p,spacing=0)
open("out.html","w").write(file_html([r,ov],INLINE,title="plot"))
